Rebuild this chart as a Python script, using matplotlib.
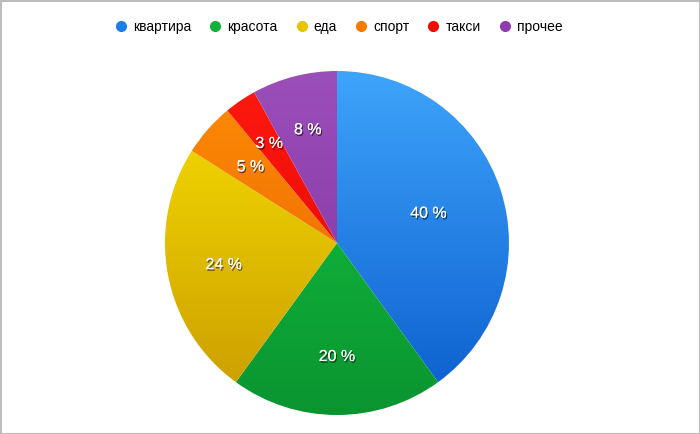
import numpy as np
import matplotlib.pyplot as plt
import matplotlib.patheffects as pe
from matplotlib.colors import LinearSegmentedColormap
from matplotlib.lines import Line2D

# данные
labels = ['квартира', 'красота', 'еда', 'спорт', 'такси', 'прочее']
values = [40, 20, 24, 5, 3, 8]
top_colors = ['#3ea4fb', '#14c843', '#f9e200', '#ff8c05', '#ff1a10', '#9b4fb9']
bottom_colors = ['#0a5ccc', '#0a9430', '#c99a00', '#e45f00', '#dd0000', '#7f2f9e']
legend_colors = ['#1a7fe8', '#10b23a', '#e6c400', '#f47a00', '#f00a00', '#8c3cac']
label_dist = [0.56, 0.66, 0.67, 0.67, 0.70, 0.68]

W, H = 700, 434
cx, cy, R = 337, H - 243, 172

fig = plt.figure(figsize=(7, 4.34), dpi=100)
ax = fig.add_axes([0, 0, 1, 1])

wedges, texts = ax.pie(values, center=(cx, cy), radius=R, startangle=90,
                       counterclock=False, frame=True,
                       wedgeprops=dict(linewidth=0))
ax.set_xlim(0, W)
ax.set_ylim(0, H)
ax.set_aspect('equal')
ax.axis('off')

grad = np.linspace(1, 0, 256).reshape(-1, 1)
for w, c0, c1 in zip(wedges, top_colors, bottom_colors):
    w.set_facecolor('none')
    cmap = LinearSegmentedColormap.from_list('g', [c1, c0])
    im = ax.imshow(grad, cmap=cmap, extent=(cx - R, cx + R, cy - R, cy + R),
                   origin='upper', aspect='auto', zorder=1)
    im.set_clip_path(w)

# подписи процентов
total = sum(values)
start = 90.0
for v, d in zip(values, label_dist):
    ang = np.deg2rad(start - 360 * v / total / 2)
    start -= 360 * v / total
    ax.text(cx + d * R * np.cos(ang), cy + d * R * np.sin(ang), f'{v} %',
            ha='center', va='center', color='white', fontsize=11.5,
            family='Liberation Sans', zorder=5,
            path_effects=[pe.withSimplePatchShadow(offset=(0.8, -1.2),
                                                   shadow_rgbFace='black',
                                                   alpha=0.6),
                          pe.Normal()])

# легенда
handles = [Line2D([], [], marker='o', linestyle='none', markersize=7,
                  markerfacecolor=c, markeredgecolor=c) for c in legend_colors]
fig.legend(handles, labels, loc='center', bbox_to_anchor=(0.484, 1 - 27 / H),
           ncol=6, frameon=False, handlelength=0.85, handletextpad=0.45,
           columnspacing=1.3, borderpad=0,
           prop=dict(family='Liberation Sans', size=10))

# рамка
ax.add_patch(plt.Rectangle((0.5, 0.5), W - 1, H - 1, fill=False,
                           edgecolor='#bdbdbd', linewidth=1.5, zorder=10))

fig.savefig('out.png', dpi=100)
